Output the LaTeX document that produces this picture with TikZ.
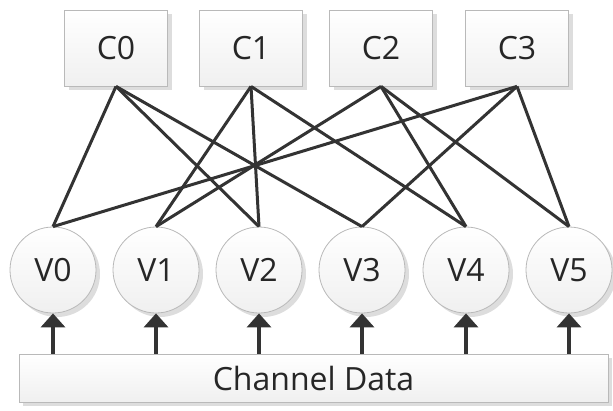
\documentclass[tikz,border=0pt]{standalone}
\usepackage{fontspec}
\setmainfont{Open Sans}
\usetikzlibrary{shadows,arrows.meta}
\begin{document}
\begin{tikzpicture}[x=1pt,y=-1pt,
  every node/.style={font=\fontsize{32}{36}\selectfont, text=black!85},
  soft/.style={draw=gray!55, line width=0.8pt, top color=white, bottom color=gray!12,
    drop shadow={shadow xshift=4pt, shadow yshift=-4pt, fill=gray!45, opacity=0.6}},
  checkbox/.style={soft, rectangle, minimum width=103pt, minimum height=76pt, inner sep=0pt},
  varnode/.style={soft, circle, minimum size=86pt, inner sep=0pt},
  databox/.style={soft, rectangle, minimum width=589pt, minimum height=48pt, inner sep=0pt},
  edge/.style={draw=black!80, line width=3pt},
  feed/.style={draw=black!80, line width=3.5pt, -{Triangle[width=24pt,length=14pt]}}
]
\useasboundingbox (0,0) rectangle (613,410);

% check nodes
\node[checkbox] (c0) at (116,48) {C0};
\node[checkbox] (c1) at (251,48) {C1};
\node[checkbox] (c2) at (381,48) {C2};
\node[checkbox] (c3) at (517,48) {C3};

% variable nodes
\node[varnode] (v0) at (53,270)  {V0};
\node[varnode] (v1) at (156,270) {V1};
\node[varnode] (v2) at (259,270) {V2};
\node[varnode] (v3) at (362,270) {V3};
\node[varnode] (v4) at (466,270) {V4};
\node[varnode] (v5) at (569,270) {V5};

% channel input
\node[databox] (data) at (313.5,378) {Channel Data};

% parity-check edges
\foreach \c/\v in {c0/v0, c0/v2, c0/v3,
                   c1/v1, c1/v2, c1/v4,
                   c2/v1, c2/v4, c2/v5,
                   c3/v0, c3/v3, c3/v5}
  \draw[edge] (\c.south) -- (\v.north);

% channel values feeding the variable nodes
\foreach \v in {v0,v1,v2,v3,v4,v5}
  \draw[feed] (data.north -| \v) -- (\v.south);
\end{tikzpicture}
\end{document}
